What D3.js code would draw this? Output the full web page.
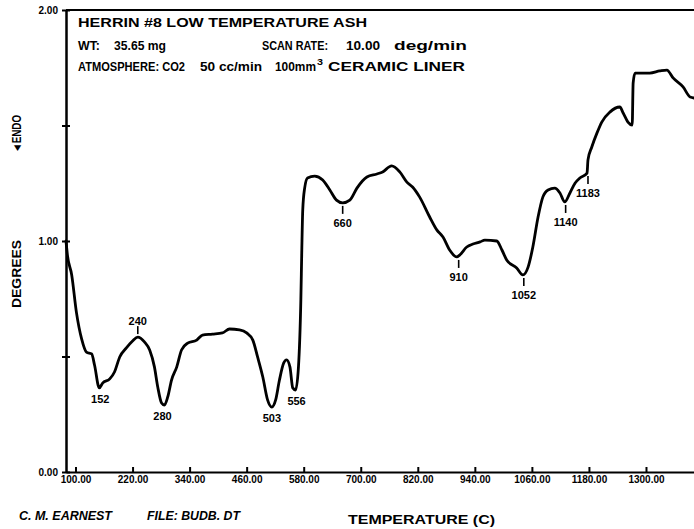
<!DOCTYPE html>
<html>
<head>
<meta charset="utf-8">
<script src="https://cdn.jsdelivr.net/npm/d3@7"></script>
<style>
  body { margin: 0; background: #fff; }
  svg { display: block; font-family: 'Liberation Sans', Arial, sans-serif; }
</style>
</head>
<body>
<svg id="chart"></svg>
<script>
// DTA trace (temperature in C, degrees)
const temperature = [
  80, 83, 92, 102, 113, 123, 134, 140, 150, 157,
  172, 182, 193, 207, 220, 231, 245, 256, 266, 273,
  281, 287, 294, 302, 313, 323, 336, 355, 367, 388,
  409, 424, 445, 460, 473, 483, 494, 504, 513, 521,
  529, 538, 544, 551, 557, 563, 569, 574, 576, 578,
  582, 588, 603, 620, 635, 649, 662, 677, 692, 713,
  734, 746, 765, 782, 797, 809, 824, 845, 860, 873,
  887, 902, 908, 923, 936, 951, 961, 986, 997, 1007,
  1028, 1041, 1052, 1062, 1073, 1083, 1094, 1108, 1119, 1129,
  1140, 1151, 1161, 1176, 1178, 1186, 1197, 1207, 1224, 1245,
  1252, 1262, 1271, 1273, 1277, 1287, 1308, 1329, 1344, 1357,
  1378, 1393, 1401,
];
const degrees = [
  1.0, 0.939, 0.853, 0.69, 0.575, 0.519, 0.511, 0.463, 0.364, 0.385,
  0.403, 0.433, 0.498, 0.537, 0.567, 0.584, 0.563, 0.528, 0.455, 0.368,
  0.299, 0.29, 0.325, 0.398, 0.455, 0.528, 0.558, 0.571, 0.593, 0.597,
  0.602, 0.619, 0.615, 0.602, 0.571, 0.498, 0.411, 0.312, 0.281, 0.312,
  0.398, 0.472, 0.485, 0.455, 0.364, 0.355, 0.455, 0.745, 0.961, 1.134,
  1.229, 1.273, 1.281, 1.264, 1.221, 1.177, 1.165, 1.177, 1.229, 1.277,
  1.29, 1.299, 1.325, 1.299, 1.255, 1.234, 1.19, 1.104, 1.048, 1.017,
  0.961, 0.931, 0.939, 0.974, 0.987, 0.996, 1.004, 1.0, 0.961, 0.918,
  0.883, 0.853, 0.887, 0.974, 1.104, 1.19, 1.221, 1.229, 1.208, 1.169,
  1.208, 1.251, 1.273, 1.294, 1.351, 1.407, 1.468, 1.515, 1.558, 1.58,
  1.554, 1.515, 1.502, 1.684, 1.727, 1.727, 1.727, 1.736, 1.74, 1.706,
  1.667, 1.623, 1.619,
];

const tempTicks = [100, 220, 340, 460, 580, 700, 820, 940, 1060, 1180, 1300];
const degreeTicks = [0, 0.5, 1, 1.5, 2];
const degreeLabels = [0, 1, 2];

// peak annotations
const peakLabels = ['152', '240', '280', '503', '556', '660', '910', '1052', '1140', '1183'];
const peakTemps = [152, 231, 283, 513, 565, 662, 906, 1043, 1131, 1178];
const peakDegrees = [0.364, 0.584, 0.29, 0.281, 0.355, 1.165, 0.931, 0.853, 1.169, 1.294];
const peakAbove = [false, true, false, false, false, false, false, false, false, false];
const peakTick = [false, true, false, false, false, true, true, true, true, true];

const width = 694;
const height = 529;
const plot = { left: 66, right: 694, top: 10, bottom: 472 };
const ink = '#000';

const svg = d3.select('#chart').attr('width', width).attr('height', height);
svg.append('rect').attr('width', width).attr('height', height).attr('fill', '#fff');

const x = d3.scaleLinear().domain([80, 1401]).range([plot.left, plot.right]);
const y = d3.scaleLinear().domain([0, 2]).range([plot.bottom, plot.top]);

// Top frame line
svg.append('line')
  .attr('x1', plot.left).attr('x2', plot.right)
  .attr('y1', y(2)).attr('y2', y(2))
  .attr('stroke', ink).attr('stroke-width', 2);

// Y axis, ticks cross the line
const fmt = d3.format('.2f');
svg.append('g')
  .attr('class', 'axis')
  .attr('transform', `translate(${plot.left},0)`)
  .call(d3.axisLeft(y).tickValues(degreeTicks).tickSize(4).tickSizeOuter(0).tickPadding(4)
    .tickFormat((d) => (degreeLabels.includes(d) ? fmt(d) : '')));
svg.append('g')
  .attr('class', 'axis')
  .attr('transform', `translate(${plot.left},0)`)
  .call(d3.axisRight(y).tickValues(degreeTicks).tickSize(4).tickSizeOuter(0).tickFormat(''));

// X axis, small upward ticks
svg.append('g')
  .attr('class', 'axis')
  .attr('transform', `translate(0,${plot.bottom})`)
  .call(d3.axisBottom(x).tickValues(tempTicks).tickSize(-5).tickSizeOuter(0).tickPadding(4)
    .tickFormat(fmt));

svg.selectAll('.axis .domain').attr('stroke', ink).attr('stroke-width', 2);
svg.selectAll('.axis .tick line').attr('stroke', ink).attr('stroke-width', 2);
svg.selectAll('.axis text')
  .attr('fill', ink)
  .style('font-family', "'Liberation Sans', Arial, sans-serif")
  .style('font-size', '10px')
  .style('font-weight', 'bold');

// The trace
const line = d3.line()
  .x((d, i) => x(temperature[i]))
  .y((d) => y(d))
  .curve(d3.curveMonotoneX);

svg.append('path')
  .datum(degrees)
  .attr('d', line)
  .attr('fill', 'none')
  .attr('stroke', ink)
  .attr('stroke-width', 2.8)
  .attr('stroke-linejoin', 'round')
  .attr('stroke-linecap', 'round');

// Peak labels
const peaks = svg.append('g').attr('class', 'peaks');
peakLabels.forEach((label, i) => {
  const px = x(peakTemps[i]);
  const py = y(peakDegrees[i]);
  const dir = peakAbove[i] ? -1 : 1;
  if (peakTick[i]) {
    peaks.append('line')
      .attr('x1', px).attr('x2', px)
      .attr('y1', py + dir * 3).attr('y2', py + dir * 11)
      .attr('stroke', ink).attr('stroke-width', 1.6);
  }
  const off = peakTick[i] ? (peakAbove[i] ? -12 : 24) : 15;
  peaks.append('text')
    .attr('x', px).attr('y', py + off)
    .attr('text-anchor', 'middle')
    .attr('font-size', 11)
    .attr('font-weight', 'bold')
    .attr('fill', ink)
    .text(label);
});

// Header block
const header = [
  { t: 'HERRIN #8 LOW TEMPERATURE ASH', x: 78, y: 27, w: 289, s: 12.5 },
  { t: 'WT:', x: 78, y: 50, w: 22, s: 12 },
  { t: '35.65 mg', x: 114, y: 50, w: 52, s: 12 },
  { t: 'SCAN RATE:', x: 262, y: 50, w: 66, s: 12 },
  { t: '10.00', x: 346, y: 50, w: 34, s: 12 },
  { t: 'deg/min', x: 394, y: 50, w: 73, s: 12 },
  { t: 'ATMOSPHERE: CO2', x: 78, y: 71, w: 107, s: 12 },
  { t: '50 cc/min', x: 200, y: 71, w: 62, s: 12 },
  { t: '100mm', x: 275, y: 71, w: 41, s: 12 },
  { t: '3', x: 317, y: 65, w: 6, s: 9 },
  { t: 'CERAMIC LINER', x: 328, y: 71, w: 137, s: 12 },
];
svg.append('g').selectAll('text')
  .data(header)
  .join('text')
  .attr('x', (d) => d.x).attr('y', (d) => d.y)
  .attr('textLength', (d) => d.w)
  .attr('lengthAdjust', 'spacingAndGlyphs')
  .attr('font-size', (d) => d.s)
  .attr('font-weight', 'bold')
  .attr('fill', ink)
  .text((d) => d.t);

// Axis titles
svg.append('text')
  .attr('transform', 'translate(21,274) rotate(-90)')
  .attr('text-anchor', 'middle')
  .attr('font-size', 13).attr('font-weight', 'bold').attr('fill', ink)
  .attr('textLength', 68).attr('lengthAdjust', 'spacingAndGlyphs')
  .text('DEGREES');
svg.append('text')
  .attr('transform', 'translate(21,134) rotate(-90)')
  .attr('text-anchor', 'middle')
  .attr('font-size', 12).attr('font-weight', 'bold').attr('fill', ink)
  .attr('textLength', 38).attr('lengthAdjust', 'spacingAndGlyphs')
  .text('\u25C4ENDO');

svg.append('text')
  .attr('x', 348).attr('y', 524)
  .attr('font-size', 13).attr('font-weight', 'bold').attr('fill', ink)
  .attr('textLength', 147).attr('lengthAdjust', 'spacingAndGlyphs')
  .text('TEMPERATURE  (C)');

// Footer
svg.append('text')
  .attr('x', 19).attr('y', 520)
  .attr('font-size', 12).attr('font-weight', 'bold').attr('font-style', 'italic').attr('fill', ink)
  .attr('textLength', 93).attr('lengthAdjust', 'spacingAndGlyphs')
  .text('C. M. EARNEST');
svg.append('text')
  .attr('x', 147).attr('y', 520)
  .attr('font-size', 12).attr('font-weight', 'bold').attr('font-style', 'italic').attr('fill', ink)
  .attr('textLength', 93).attr('lengthAdjust', 'spacingAndGlyphs')
  .text('FILE: BUDB. DT');
</script>
</body>
</html>
